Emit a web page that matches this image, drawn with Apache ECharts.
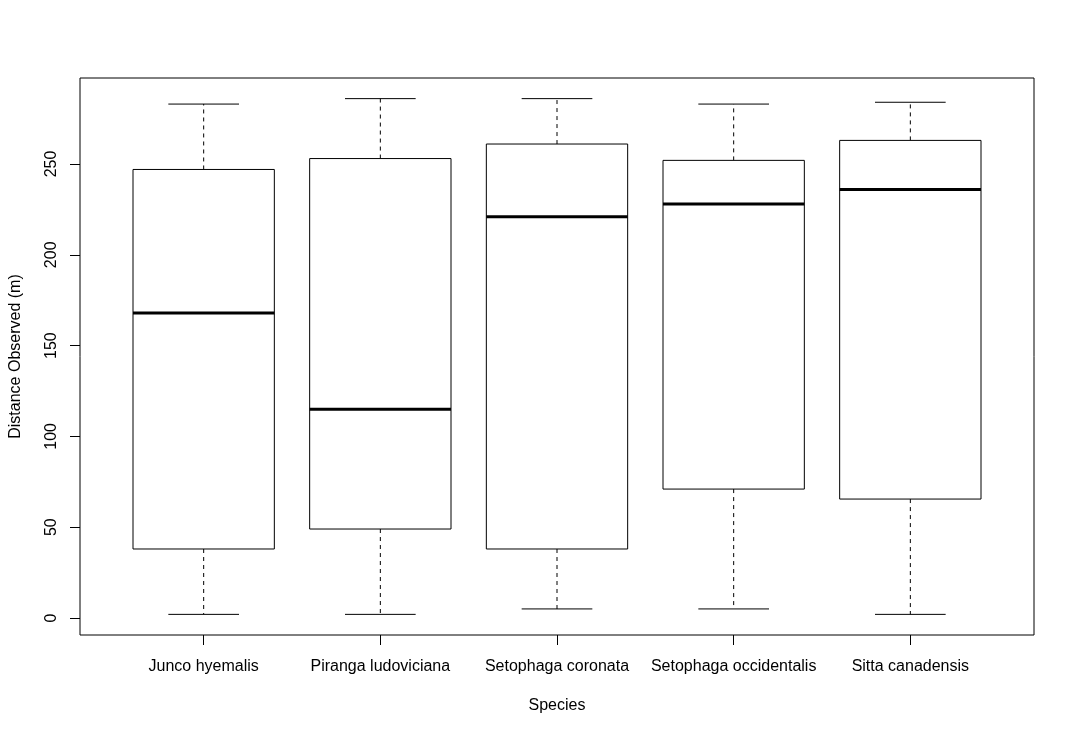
<!DOCTYPE html>
<html>
<head>
<meta charset="utf-8">
<script src="https://cdn.jsdelivr.net/npm/echarts@6/dist/echarts.min.js"></script>
<style>
html,body{margin:0;padding:0;background:#fff;}
#chart{width:1075px;height:734px;}
</style>
</head>
<body>
<div id="chart"></div>
<script>
// Data
const species = ["Junco hyemalis", "Piranga ludoviciana", "Setophaga coronata", "Setophaga occidentalis", "Sitta canadensis"];
const lowerWhisker = [2, 2, 5, 5, 2];
const q1 = [38, 49, 38, 71, 65.5];
const median = [168, 115, 221, 228, 236];
const q3 = [247, 253, 261, 252, 263];
const upperWhisker = [283, 286, 286, 283, 284];
const yTicks = [0, 50, 100, 150, 200, 250];
const xTicks = [1, 2, 3, 4, 5];

const dataMin = Math.min(...lowerWhisker), dataMax = Math.max(...upperWhisker);
const pad = (dataMax - dataMin) * 0.04;

const seriesData = species.map((s, i) => [i + 1, lowerWhisker[i], q1[i], median[i], q3[i], upperWhisker[i]]);

const FONT = "'Liberation Sans', Arial, Helvetica, sans-serif";
const chart = echarts.init(document.getElementById('chart'), null, {renderer: 'canvas'});

function renderItem(params, api) {
  const x = api.value(0);
  const lo = api.value(1), a = api.value(2), m = api.value(3), b = api.value(4), hi = api.value(5);
  const halfBox = 0.4, halfCap = 0.2;
  const tl = api.coord([x - halfBox, b]);
  const br = api.coord([x + halfBox, a]);
  const c = api.coord([x, 0]);
  const yLo = api.coord([x, lo])[1], yHi = api.coord([x, hi])[1];
  const yA = br[1], yB = tl[1], yM = api.coord([x, m])[1];
  const capL = api.coord([x - halfCap, 0])[0], capR = api.coord([x + halfCap, 0])[0];
  const thin = {stroke: '#000', lineWidth: 1, fill: null};
  const dash = {stroke: '#000', lineWidth: 1, lineDash: [4, 4]};
  return {
    type: 'group',
    children: [
      {type: 'line', shape: {x1: c[0], y1: yB, x2: c[0], y2: yHi}, style: dash},
      {type: 'line', shape: {x1: c[0], y1: yA, x2: c[0], y2: yLo}, style: dash},
      {type: 'line', shape: {x1: capL, y1: yHi, x2: capR, y2: yHi}, style: thin},
      {type: 'line', shape: {x1: capL, y1: yLo, x2: capR, y2: yLo}, style: thin},
      {type: 'rect', shape: {x: tl[0], y: tl[1], width: br[0] - tl[0], height: br[1] - tl[1]}, style: {stroke: '#000', lineWidth: 1, fill: '#fff'}},
      {type: 'line', shape: {x1: tl[0], y1: yM, x2: br[0], y2: yM}, style: {stroke: '#000', lineWidth: 3}}
    ]
  };
}

chart.setOption({
  animation: false,
  backgroundColor: '#fff',
  textStyle: {fontFamily: FONT, color: '#000'},
  grid: {left: 79, right: 41, top: 78, bottom: 99, show: true, borderColor: '#000', borderWidth: 1, backgroundColor: 'transparent', containLabel: false},
  xAxis: {
    type: 'value', min: 0.3, max: 5.7,
    splitLine: {show: false},
    axisLine: {show: false, onZero: false},
    axisTick: {show: true, length: 10, inside: false, customValues: xTicks, lineStyle: {color: '#000', width: 1}},
    axisLabel: {show: true, customValues: xTicks, margin: 24, fontSize: 16, fontFamily: FONT, color: '#000',
      formatter: v => species[Math.round(v) - 1] || ''},
    name: 'Species', nameLocation: 'middle', nameGap: 63,
    nameTextStyle: {fontSize: 16, fontFamily: FONT, color: '#000'}
  },
  yAxis: {
    type: 'value', min: dataMin - pad, max: dataMax + pad,
    splitLine: {show: false},
    axisLine: {show: false, onZero: false},
    axisTick: {show: true, length: 10, inside: false, customValues: yTicks, lineStyle: {color: '#000', width: 1}},
    axisLabel: {show: true, customValues: yTicks, rotate: 90, margin: 20, fontSize: 16, fontFamily: FONT, color: '#000'},
    name: 'Distance Observed (m)', nameLocation: 'middle', nameRotate: 90, nameGap: 56,
    nameTextStyle: {fontSize: 16, fontFamily: FONT, color: '#000'}
  },
  series: [{
    type: 'custom',
    renderItem: renderItem,
    data: seriesData,
    encode: {x: 0, y: [1, 2, 3, 4, 5]},
    clip: false
  }]
});
</script>
</body>
</html>
